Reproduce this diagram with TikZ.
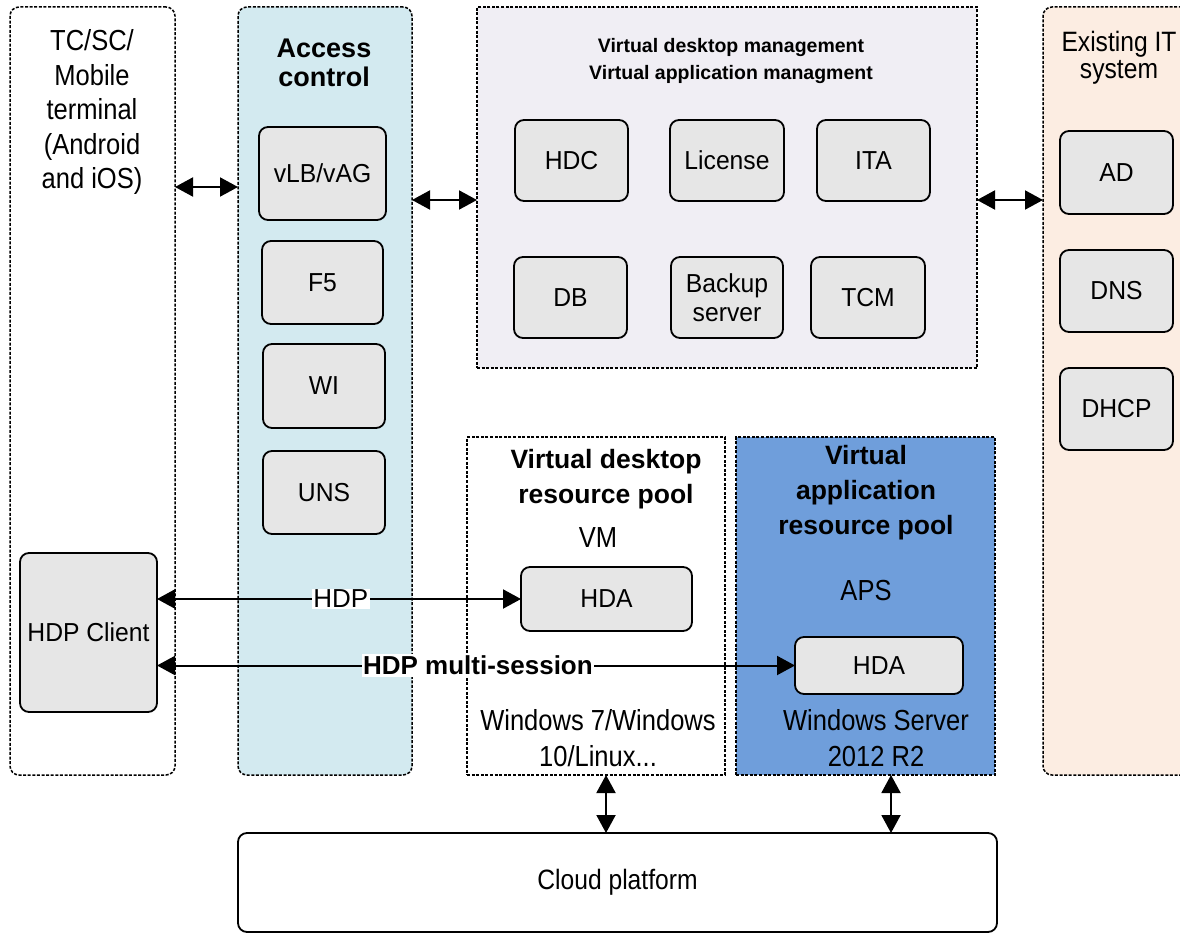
\documentclass[tikz,border=0pt]{standalone}
\usepackage{fontspec}
\setmainfont{Liberation Sans}
\newfontfamily\condfont{Liberation Sans}[FakeStretch=0.88]
\newfontfamily\boxfont{Liberation Sans}[FakeStretch=0.95]
\usetikzlibrary{arrows.meta}

\definecolor{accfill}{RGB}{211,234,240}
\definecolor{mgmtfill}{RGB}{240,238,244}
\definecolor{itfill}{RGB}{252,237,226}
\definecolor{appfill}{RGB}{111,158,219}
\definecolor{boxgray}{RGB}{230,230,230}

\begin{document}
\begin{tikzpicture}[x=1pt,y=-1pt,
  panel/.style={draw=black, line width=1.5pt, dash pattern=on 3pt off 1.6pt,
    inner sep=0pt, outer sep=0pt},
  roundpanel/.style={panel, rounded corners=9pt},
  module/.style={draw=black, line width=1.8pt, fill=boxgray, rounded corners=9pt,
    inner sep=0pt, outer sep=0pt, align=center,
    font=\boxfont\fontsize{26}{29}\selectfont},
  biarrow/.style={line width=2pt,
    {Triangle[length=18pt,width=19pt]}-{Triangle[length=18pt,width=19pt]}},
  plain/.style={align=center, inner sep=0pt, font=\condfont\fontsize{29}{34.5}\selectfont},
  heading/.style={align=center, inner sep=0pt, font=\bfseries\fontsize{26.5}{35}\selectfont},
  linklabel/.style={fill=white, inner sep=1.5pt, font=\fontsize{26}{29}\selectfont}
]
\useasboundingbox (0,0) rectangle (1180,934);
\clip (0,0) rectangle (1180,934);

% ---- column panels ----
\node[roundpanel, fill=white, minimum width=165pt, minimum height=768pt] (term) at (92.5,391) {};
\node[roundpanel, fill=accfill, minimum width=174pt, minimum height=768pt] (acc) at (325,391) {};
\node[panel, fill=mgmtfill, minimum width=500pt, minimum height=361pt] (mgmt) at (727,187.5) {};
\node[roundpanel, fill=itfill, minimum width=157pt, minimum height=768pt] (exist) at (1121.5,391) {};
\node[panel, fill=white, minimum width=258pt, minimum height=338pt] (vdrp) at (596,606) {};
\node[panel, fill=appfill, minimum width=259pt, minimum height=338pt] (varp) at (865.5,606) {};
\node[draw=black, line width=1.8pt, rounded corners=9pt, fill=white, inner sep=0pt, outer sep=0pt,
      minimum width=759pt, minimum height=99pt, font=\condfont\fontsize{28}{32}\selectfont] (cloud) at (617.5,882.5) {Cloud platform};

% ---- panel texts ----
\node[plain] (termtxt) at (92,112) {TC/SC/\\Mobile\\terminal\\(Android\\and iOS)};
\node[heading, font=\bfseries\fontsize{27}{29}\selectfont] (acctxt) at (324,62.5) {Access\\control};
\node[heading, font=\bfseries\fontsize{19.5}{27}\selectfont] (mgmttxt) at (731,61.5)
  {Virtual desktop management\\Virtual application managment};
\node[plain, font=\condfont\fontsize{28}{27}\selectfont] (exittxt) at (1119,58) {Existing IT\\system};
\node[heading] (vdrptxt) at (606,479.5) {Virtual desktop\\resource pool};
\node[plain] (vmtxt) at (598,538) {VM};
\node[plain, font=\condfont\fontsize{29}{36}\selectfont] (vdrpos) at (598,738) {Windows 7/Windows\\10/Linux...};
\node[heading] (varptxt) at (866,493) {Virtual\\application\\resource pool};
\node[plain] (apstxt) at (866,591) {APS};
\node[plain, font=\condfont\fontsize{29}{36}\selectfont] (varpos) at (876,738) {Windows Server\\2012 R2};

% ---- modules ----
\node[module, minimum width=127pt, minimum height=93pt] (vlb) at (322.5,173.5) {vLB/vAG};
\node[module, minimum width=121pt, minimum height=83pt] (f5) at (322.5,282.5) {F5};
\node[module, minimum width=122pt, minimum height=84pt] (wi) at (324,386) {WI};
\node[module, minimum width=122pt, minimum height=83pt] (uns) at (324,492.5) {UNS};

\node[module, minimum width=113pt, minimum height=81pt] (hdc) at (571.5,160.5) {HDC};
\node[module, minimum width=114pt, minimum height=81pt] (lic) at (727,160.5) {License};
\node[module, minimum width=113pt, minimum height=81pt] (ita) at (873.5,160.5) {ITA};
\node[module, minimum width=113pt, minimum height=81pt] (db) at (570.5,297.5) {DB};
\node[module, minimum width=112pt, minimum height=81pt] (bak) at (727,297.5) {Backup\\server};
\node[module, minimum width=114pt, minimum height=81pt] (tcm) at (868,297.5) {TCM};

\node[module, minimum width=113pt, minimum height=83pt] (ad) at (1116.5,172.5) {AD};
\node[module, minimum width=113pt, minimum height=82pt] (dns) at (1116.5,291) {DNS};
\node[module, minimum width=113pt, minimum height=82pt] (dhcp) at (1116.5,409) {DHCP};

\node[module, minimum width=137pt, minimum height=159pt] (client) at (88.5,632.5) {HDP Client};
\node[module, minimum width=171pt, minimum height=64pt] (hda1) at (606.5,599) {HDA};
\node[module, minimum width=168pt, minimum height=57pt] (hda2) at (879,665.5) {HDA};

% ---- connector heights / columns ----
\coordinate (rowa) at (0,187);
\coordinate (rowb) at (0,200);
\coordinate (cola) at (606,0);
\coordinate (colb) at (891,0);

% ---- connectors ----
\draw[biarrow] (term.east |- rowa) -- (acc.west |- rowa);
\draw[biarrow] (acc.east |- rowb) -- (mgmt.west |- rowb);
\draw[biarrow] (mgmt.east |- rowb) -- (exist.west |- rowb);

\draw[biarrow] (client.east |- hda1.west) -- node[linklabel, pos=0.505] {HDP} (hda1.west);
\draw[biarrow] (client.east |- hda2.west) -- node[linklabel, pos=0.503, font=\bfseries\fontsize{26}{29}\selectfont] {HDP multi-session} (hda2.west);

\draw[biarrow] (vdrp.south -| cola) -- (cloud.north -| cola);
\draw[biarrow] (varp.south -| colb) -- (cloud.north -| colb);
\end{tikzpicture}
\end{document}
